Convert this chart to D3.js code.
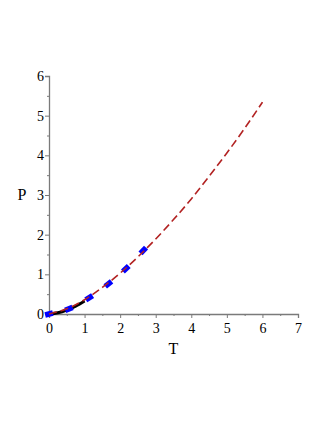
<!DOCTYPE html>
<html>
<head>
<meta charset="utf-8">
<script src="https://cdn.jsdelivr.net/npm/d3@7"></script>
<style>
  body { margin: 0; background: #fff; }
  text { font-family: "Liberation Serif", "DejaVu Serif", serif; }
</style>
</head>
<body>
<div id="chart"></div>
<script>
// dashed fit curve
var curveT = [0, 0.5, 1, 1.5, 2, 2.5, 3, 3.5, 4, 4.5, 5, 5.5, 6];
var curveP = [0, 0.13, 0.36, 0.67, 1.03, 1.44, 1.89, 2.38, 2.9, 3.47, 4.06, 4.68, 5.34];
// black solid piece
var blackT = [0, 0.25, 0.5, 0.75, 1.0];
var blackP = [0, 0.03, 0.1, 0.2, 0.33];
// blue data points
var pointT = [0, 0.56, 1.13, 1.67, 2.16, 2.65];
var pointP = [0, 0.13, 0.41, 0.76, 1.14, 1.6];

var xTicks = [0, 1, 2, 3, 4, 5, 6, 7];
var yTicks = [0, 1, 2, 3, 4, 5, 6];

var svgWidth = 327;
var svgHeight = 423;

var svg = d3.select("#chart")
  .append("svg")
  .attr("width", svgWidth)
  .attr("height", svgHeight);

var x = d3.scaleLinear().domain([0, 7]).range([49, 298]);
var y = d3.scaleLinear().domain([0, 6]).range([314, 76]);

var axisColor = "#7a7a7a";

// x axis
var xAxis = svg.append("g")
  .attr("transform", `translate(0, ${y(0)})`)
  .call(d3.axisBottom(x).tickValues(xTicks).tickSize(4).tickFormat(d3.format("d")));
var xMinor = svg.append("g")
  .attr("transform", `translate(0, ${y(0)})`)
  .call(d3.axisBottom(x).tickValues(d3.range(0.5, 7, 1)).tickSize(2).tickFormat(""));

// y axis
var yAxis = svg.append("g")
  .attr("transform", `translate(${x(0)}, 0)`)
  .call(d3.axisLeft(y).tickValues(yTicks).tickSize(4).tickFormat(d3.format("d")));
var yMinor = svg.append("g")
  .attr("transform", `translate(${x(0)}, 0)`)
  .call(d3.axisLeft(y).tickValues(d3.range(0.5, 6, 1)).tickSize(2).tickFormat(""));

[xAxis, xMinor, yAxis, yMinor].forEach(function(g) {
  g.select(".domain").attr("stroke", axisColor).attr("stroke-width", 1.3);
  g.selectAll(".tick line").attr("stroke", axisColor);
  g.selectAll(".tick text")
    .attr("font-family", "Liberation Serif, DejaVu Serif, serif")
    .attr("font-size", "14px")
    .attr("fill", "#000");
});
xMinor.select(".domain").remove();
yMinor.select(".domain").remove();
xAxis.selectAll(".tick text").attr("dy", "0.85em");
yAxis.selectAll(".tick text").attr("x", -5);

// axis titles
svg.append("text")
  .attr("x", x(3.5))
  .attr("y", 354)
  .attr("text-anchor", "middle")
  .attr("font-size", "16px")
  .text("T");
svg.append("text")
  .attr("x", 22)
  .attr("y", y(3) + 5)
  .attr("text-anchor", "middle")
  .attr("font-size", "16px")
  .text("P");

var line = d3.line()
  .x(d => x(d[0]))
  .y(d => y(d[1]))
  .curve(d3.curveMonotoneX);

// black solid curve
svg.append("path")
  .datum(blackT.map((t, i) => [t, blackP[i]]))
  .attr("d", line)
  .attr("fill", "none")
  .attr("stroke", "#000")
  .attr("stroke-width", 3);

// blue markers, oriented along the curve
var pts = pointT.map((t, i) => [t, pointP[i]]);
svg.append("g")
  .selectAll("rect")
  .data(pts)
  .enter()
  .append("rect")
  .attr("x", -4)
  .attr("y", -2.8)
  .attr("width", 8)
  .attr("height", 5.6)
  .attr("fill", "#0000ff")
  .attr("transform", function(d, i) {
    var a = pts[Math.max(i - 1, 0)];
    var b = pts[Math.min(i + 1, pts.length - 1)];
    var ang = Math.atan2(y(b[1]) - y(a[1]), x(b[0]) - x(a[0])) * 180 / Math.PI;
    return `translate(${x(d[0])}, ${y(d[1])}) rotate(${ang})`;
  });

// red dashed curve
svg.append("path")
  .datum(curveT.map((t, i) => [t, curveP[i]]))
  .attr("d", line)
  .attr("fill", "none")
  .attr("stroke", "#b22222")
  .attr("stroke-width", 1.6)
  .attr("stroke-dasharray", "8,4");
</script>
</body>
</html>
